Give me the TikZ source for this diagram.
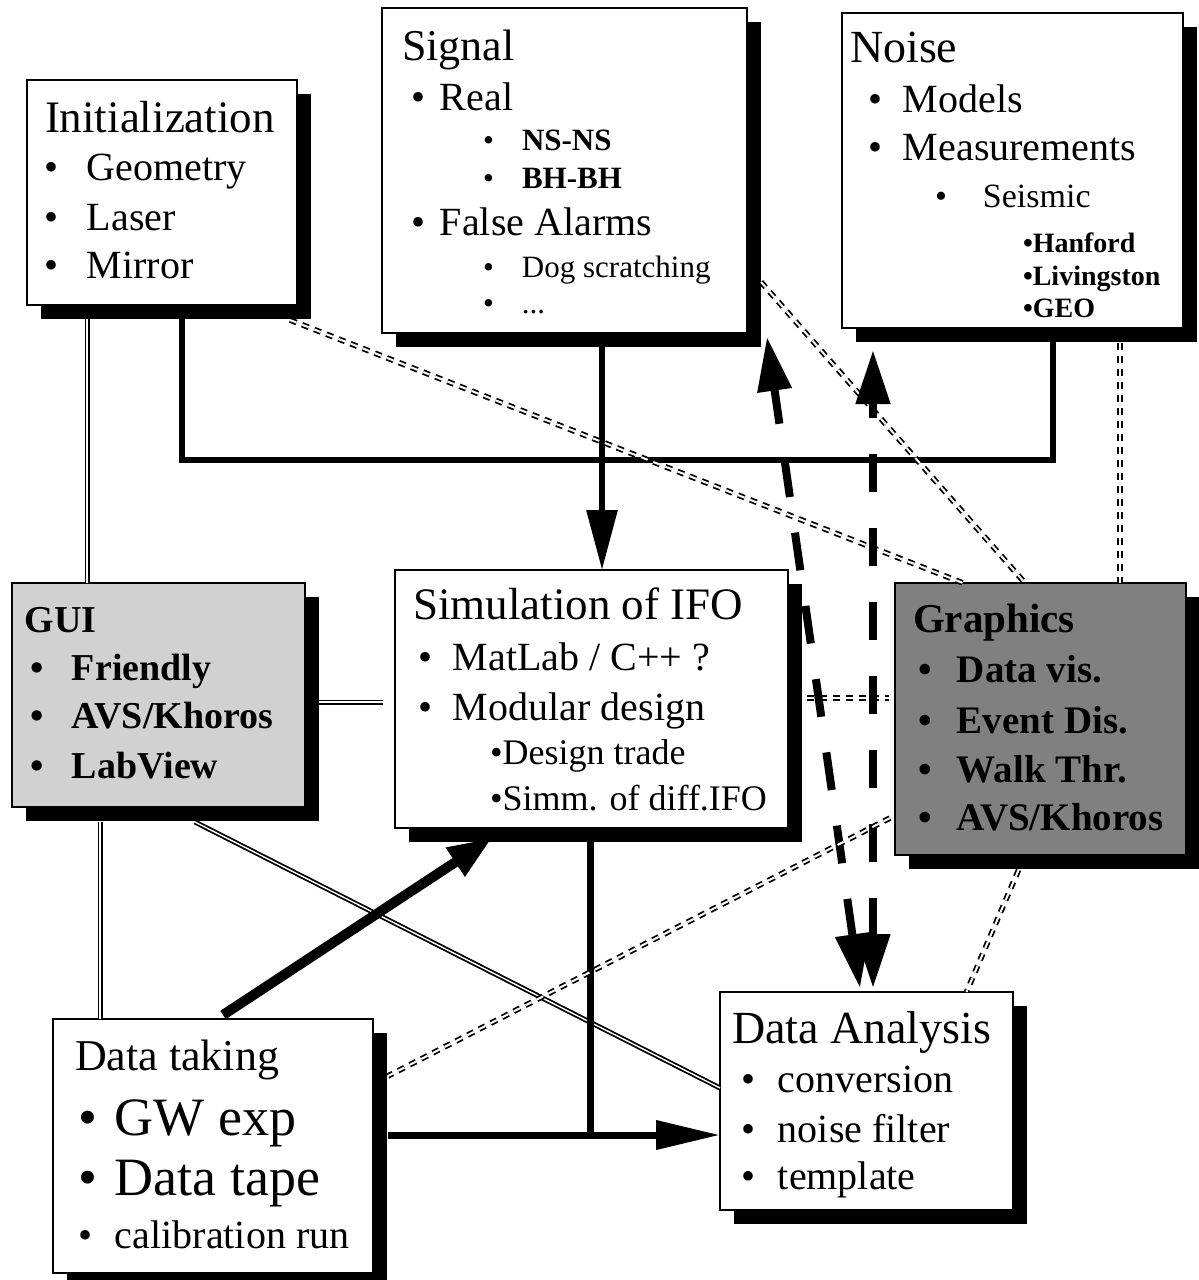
\documentclass[tikz,border=0pt]{standalone}
\usepackage{fontspec}
\setmainfont{Liberation Serif}
\usetikzlibrary{shadows,calc,arrows.meta}
\newcommand\fsz[1]{\fontsize{#1pt}{#1pt}\selectfont}
\newcommand\bu[1]{\makebox[#1pt][l]{\textbullet}}
\begin{document}
\begin{tikzpicture}[x=0.5pt,y=-0.5pt,
  box/.style={draw=black, line width=1pt, fill=white, inner sep=0pt, outer sep=0pt,
    drop shadow={shadow xshift=7pt, shadow yshift=-7pt, fill=black, opacity=1}},
  tx/.style={anchor=base west, inner sep=0pt, outer sep=0pt},
  thk/.style={line width=3pt},
  dbl/.style={double, line width=0.9pt, double distance=0.7pt},
  ddash/.style={double, line width=0.9pt, double distance=1pt, dash pattern=on 3.5pt off 3pt},
  bigdash/.style={line width=4pt, dash pattern=on 19pt off 18pt,
    {Triangle[length=27pt,width=16.5pt]}-{Triangle[length=27pt,width=16.5pt]}},
]
\useasboundingbox (0,0) rectangle (1199,1280);

% boxes
\node[box, minimum width=135pt, minimum height=112.5pt] (init) at (162,192.5) {};
\node[box, minimum width=182.5pt, minimum height=162.5pt] (signal) at (564.5,170.5) {};
\node[box, minimum width=170.5pt, minimum height=157.5pt] (noise) at (1012.5,170.5) {};
\node[box, fill=black!18, minimum width=146.5pt, minimum height=112pt] (gui) at (158.5,695) {};
\node[box, minimum width=196.5pt, minimum height=129pt] (sim) at (591.5,699) {};
\node[box, fill=black!50, minimum width=145.5pt, minimum height=136pt] (gfx) at (1040.5,719) {};
\node[box, minimum width=160pt, minimum height=127pt] (dtake) at (213,1146) {};
\node[box, minimum width=146.5pt, minimum height=109pt] (dana) at (866.5,1101) {};

% helper coordinates
\coordinate (j1) at (182,460);
\coordinate (j2) at (1053,460);
\coordinate (sx) at (602,460);
\coordinate (nx) at (1120,460);
\coordinate (gx1) at (87,460);
\coordinate (gx2) at (100,900);
\coordinate (hy) at (590,1135);

% connectors
\draw[thk] (init.south -| j1) -- (j1) -- (j2) -- (noise.south -| j2);
\draw[thk, -{Triangle[length=30pt,width=15pt]}] (signal.south -| sx) -- (sim.north -| sx);
\draw[ddash] ($(noise.south -| nx)+(0,15)$) -- (gfx.north -| nx);
\draw[ddash] ($(init.south east)+(-7,15)$) -- ($(gfx.north west)+(68,0)$);
\draw[ddash] ($(signal.south east)+(14,-51)$) -- ($(gfx.north west)+(130,0)$);
\draw[dbl] ($(gui.east)+(14,7)$) -- ($(sim.west)+(-12,3)$);
\draw[ddash] ($(sim.east)+(19,-1)$) -- ($(gfx.west)+(-6,-21)$);
\draw[dbl] ($(init.south -| gx1)+(0,14)$) -- (gui.north -| gx1);
\draw[dbl] ($(gui.south -| gx2)+(0,15)$) -- (dtake.north -| gx2);
\draw[dbl] ($(gui.south)+(36.5,15)$) -- ($(dana.west)+(0,-13)$);
\draw[line width=5pt, -{Triangle[length=22pt,width=16pt]}] ($(dtake.north)+(10,-4)$) -- ($(sim.south west)+(97,10)$);
\draw[line width=3.5pt, -{Triangle[length=32pt,width=14pt]}] ($(dtake.east)+(15,-11)$) -- (dana.west |- hy);
\draw[line width=3.5pt] (sim.south -| hy) -- (hy);
\draw[bigdash] ($(dana.north)+(-6.5,-4)$) -- ($(signal.south east)+(20,4)$);
\draw[bigdash] ($(dana.north)+(6.5,-4)$) -- ($(noise.south west)+(31,22)$);
\draw[ddash] ($(gfx.west)+(-5,99)$) -- ($(dtake.east)+(15,-70)$);
\draw[ddash] ($(gfx.south)+(-22,15)$) -- ($(dana.north)+(100,0)$);

% Initialization
\node[tx, font=\fsz{22.5}] (init-t) at (45,132) {Initialization};
\node[tx, font=\fsz{20}] (init-a) at (44,180) {\bu{21.5}Geometry};
\node[tx, font=\fsz{20}] (init-b) at (44,230) {\bu{21.5}Laser};
\node[tx, font=\fsz{20}] (init-c) at (44,278) {\bu{21.5}Mirror};

% Signal
\node[tx, font=\fsz{22}] (sig-t) at (402,60) {Signal};
\node[tx, font=\fsz{20}] (sig-a) at (411,110) {\bu{14.5}Real};
\node[tx, font=\fsz{15.5}] (sig-a1) at (483,150) {\bu{19.5}\textbf{NS-NS}};
\node[tx, font=\fsz{15.5}] (sig-a2) at (483,188) {\bu{19.5}\textbf{BH-BH}};
\node[tx, font=\fsz{20}] (sig-b) at (411,235) {\bu{14.5}False Alarms};
\node[tx, font=\fsz{15.5}] (sig-b1) at (483,277) {\bu{19.5}Dog scratching};
\node[tx, font=\fsz{15.5}] (sig-b2) at (483,313) {\bu{19.5}...};

% Noise
\node[tx, font=\fsz{23}] (noi-t) at (850,62) {Noise};
\node[tx, font=\fsz{20}] (noi-a) at (868,112) {\bu{17.5}Models};
\node[tx, font=\fsz{20}] (noi-b) at (868,160) {\bu{17.5}Measurements};
\node[tx, font=\fsz{17}] (noi-c) at (935,207) {\bu{24}Seismic};
\node[tx, font=\fsz{14}\bfseries] (noi-c1) at (1023,252) {\textbullet Hanford};
\node[tx, font=\fsz{14}\bfseries] (noi-c2) at (1023,285) {\textbullet Livingston};
\node[tx, font=\fsz{14}\bfseries] (noi-c3) at (1023,317) {\textbullet GEO};

% GUI
\node[tx, font=\fsz{19}\bfseries] (gui-t) at (25,632) {GUI};
\node[tx, font=\fsz{19}\bfseries] (gui-a) at (31,680) {\bu{20.5}Friendly};
\node[tx, font=\fsz{19}\bfseries] (gui-b) at (31,728) {\bu{20.5}AVS/Khoros};
\node[tx, font=\fsz{19}\bfseries] (gui-c) at (31,778) {\bu{20.5}LabView};

% Simulation
\node[tx, font=\fsz{22.5}] (sim-t) at (413,619) {Simulation of IFO};
\node[tx, font=\fsz{20}] (sim-a) at (418,670) {\bu{17.5}MatLab / C++ ?};
\node[tx, font=\fsz{20}] (sim-b) at (418,720) {\bu{17.5}Modular design};
\node[tx, font=\fsz{18}] (sim-b1) at (490,764) {\textbullet Design trade};
\node[tx, font=\fsz{18}] (sim-b2) at (490,810) {\textbullet Simm. of diff.IFO};

% Graphics
\node[tx, font=\fsz{20.5}\bfseries] (gfx-t) at (913,632) {Graphics};
\node[tx, font=\fsz{19.5}\bfseries] (gfx-a) at (918,682) {\bu{19.5}Data vis.};
\node[tx, font=\fsz{19.5}\bfseries] (gfx-b) at (918,733) {\bu{19.5}Event Dis.};
\node[tx, font=\fsz{19.5}\bfseries] (gfx-c) at (918,782) {\bu{19.5}Walk Thr.};
\node[tx, font=\fsz{19.5}\bfseries] (gfx-d) at (918,830) {\bu{19.5}AVS/Khoros};

% Data taking
\node[tx, font=\fsz{22}] (dt-t) at (75,1070) {Data taking};
\node[tx, font=\fsz{27}] (dt-a) at (78,1135) {\bu{18.5}GW exp};
\node[tx, font=\fsz{27}] (dt-b) at (78,1195) {\bu{18.5}Data tape};
\node[tx, font=\fsz{20}] (dt-c) at (78,1248) {\bu{18.5}calibration run};

% Data Analysis
\node[tx, font=\fsz{23}] (da-t) at (732,1043) {Data Analysis};
\node[tx, font=\fsz{20}] (da-a) at (741,1092) {\bu{18.5}conversion};
\node[tx, font=\fsz{20}] (da-b) at (741,1142) {\bu{18.5}noise filter};
\node[tx, font=\fsz{20}] (da-c) at (741,1189) {\bu{18.5}template};
\end{tikzpicture}
\end{document}
